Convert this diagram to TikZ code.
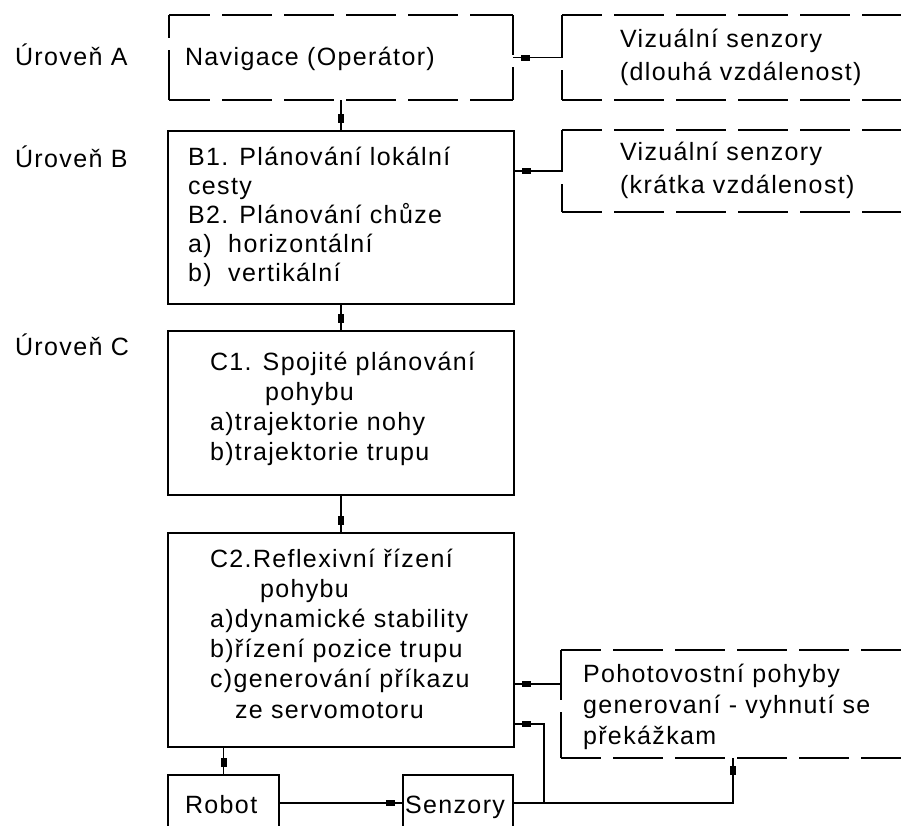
\documentclass[tikz,border=0pt]{standalone}
\usepackage{fontspec}
\setmainfont{Liberation Sans}[LetterSpace=5.5]
\usetikzlibrary{decorations.markings,calc}

\begin{document}
\begin{tikzpicture}[x=1pt,y=-1pt,
  frame/.style={draw, line width=1.9pt, inner sep=0pt, outer sep=0pt},
  dframe/.style={inner sep=0pt, outer sep=0pt},
  dside/.style={line width=1.9pt, line cap=square, dash pattern=on 50pt off 12pt},
  lbl/.style={anchor=base west, inner sep=0pt, outer sep=0pt, align=left},
  conn/.style={line width=1.9pt},
  sqtip/.style={postaction={decorate}, decoration={markings,
      mark=at position -12.5pt with {\fill (-4.5pt,-3pt) rectangle (4.5pt,3pt);}}}]

\useasboundingbox (0,0) rectangle (901,825);
\clip (0,0) rectangle (901,825);

% level captions
\node[lbl, font=\fontsize{25}{30}\selectfont] (lA) at (15,65) {Úroveň A};
\node[lbl, font=\fontsize{25}{30}\selectfont] (lB) at (15,167) {Úroveň B};
\node[lbl, font=\fontsize{25}{30}\selectfont] (lC) at (15,355) {Úroveň C};

% solid boxes
\node[frame, minimum width=346pt, minimum height=173pt] (B)  at (341,217.5) {};
\node[frame, minimum width=346pt, minimum height=164pt] (C1) at (341,413) {};
\node[frame, minimum width=346pt, minimum height=214pt] (C2) at (341,640) {};
\node[frame, minimum width=111pt, minimum height=56pt]  (Rob) at (223.5,803) {};
\node[frame, minimum width=110pt, minimum height=56pt]  (Sen) at (458,803) {};

% dashed boxes (sides drawn one by one)
\node[dframe, minimum width=344pt, minimum height=85pt]  (A)   at (341,57.5) {};
\node[dframe, minimum width=343pt, minimum height=85pt]  (VS1) at (733.5,57.5) {};
\node[dframe, minimum width=343pt, minimum height=82pt]  (VS2) at (733.5,171) {};
\node[dframe, minimum width=344pt, minimum height=108pt] (Poh) at (733,704) {};

\draw[dside, dash phase=9pt]  (A.north west) -- (A.north east);
\draw[dside, dash phase=9pt]  (A.south west) -- (A.south east);
\draw[dside, dash phase=27pt] (A.north west) -- (A.south west);
\draw[dside, dash phase=10pt] (A.north east) -- (A.south east);

\draw[dside, dash phase=10pt] (VS1.north west) -- (VS1.north east);
\draw[dside, dash phase=10pt] (VS1.south west) -- (VS1.south east);
\draw[dside, dash phase=7pt]  (VS1.north west) -- (VS1.south west);

\draw[dside, dash phase=10pt] (VS2.north west) -- (VS2.north east);
\draw[dside, dash phase=10pt] (VS2.south west) -- (VS2.south east);
\draw[dside, dash phase=8pt]  (VS2.north west) -- (VS2.south west);

\draw[dside, dash phase=10pt] (Poh.north west) -- (Poh.north east);
\draw[dside, dash phase=10pt] (Poh.south west) -- (Poh.south east);
\draw[dside, dash phase=0pt]  (Poh.north west) -- (Poh.south west);

% box texts (each placed at the baseline of its last line)
\node[lbl, font=\fontsize{25}{30}\selectfont] (tA) at (185,65) {Navigace (Operátor)};
\node[lbl, font=\fontsize{25}{32.5}\selectfont] (tVS1) at (620,80)
  {Vizuální senzory\\(dlouhá vzdálenost)};
\node[lbl, font=\fontsize{25}{32.5}\selectfont] (tVS2) at (620,193)
  {Vizuální senzory\\(krátka vzdálenost)};
\node[lbl, font=\fontsize{25}{29}\selectfont] (tB) at (188,281)
  {B1. Plánování lokální\\cesty\\B2. Plánování chůze\\a)\ \ horizontální\\b)\ \ vertikální};
\node[lbl, font=\fontsize{25}{30}\selectfont] (tC1) at (210,460)
  {C1. Spojité plánování\\\hspace*{55pt}pohybu\\a)trajektorie nohy\\b)trajektorie trupu};
\node[lbl, font=\fontsize{25}{30.2}\selectfont] (tC2) at (210,718)
  {C2.Reflexivní řízení\\\hspace*{50pt}pohybu\\a)dynamické stability\\b)řízení pozice trupu\\c)generování příkazu\\\hspace*{25pt}ze servomotoru};
\node[lbl, font=\fontsize{25}{31}\selectfont] (tPoh) at (583,744)
  {Pohotovostní pohyby\\generovaní - vyhnutí se\\překážkam};
\node[lbl, font=\fontsize{25}{30}\selectfont] (tRob) at (185,813) {Robot};
\node[lbl, font=\fontsize{25}{30}\selectfont] (tSen) at (405,813) {Senzory};

% connectors
\draw[conn, sqtip] (A.south) -- (A.south |- B.north);
\draw[conn, sqtip] (VS1.west) -- (VS1.west -| A.east);
\draw[conn, sqtip] (VS2.west) -- (VS2.west -| B.east);
\draw[conn, sqtip] (B.south) -- (C1.north);
\draw[conn, sqtip] (C1.south) -- (C2.north);
\draw[conn, sqtip] (C2.south -| Rob.north) -- (Rob.north);
\draw[conn, sqtip] (Rob.east) -- (Sen.west);
\draw[conn, sqtip] ($(Poh.west)+(0,-20)$) -- ($(C2.east)+(0,44)$);
\draw[conn, sqtip] (Sen.east) -| ($(C2.east)+(30,84)$) -- ($(C2.east)+(0,84)$);
\draw[conn, sqtip] (Sen.east) -| (Poh.south);

\end{tikzpicture}
\end{document}
